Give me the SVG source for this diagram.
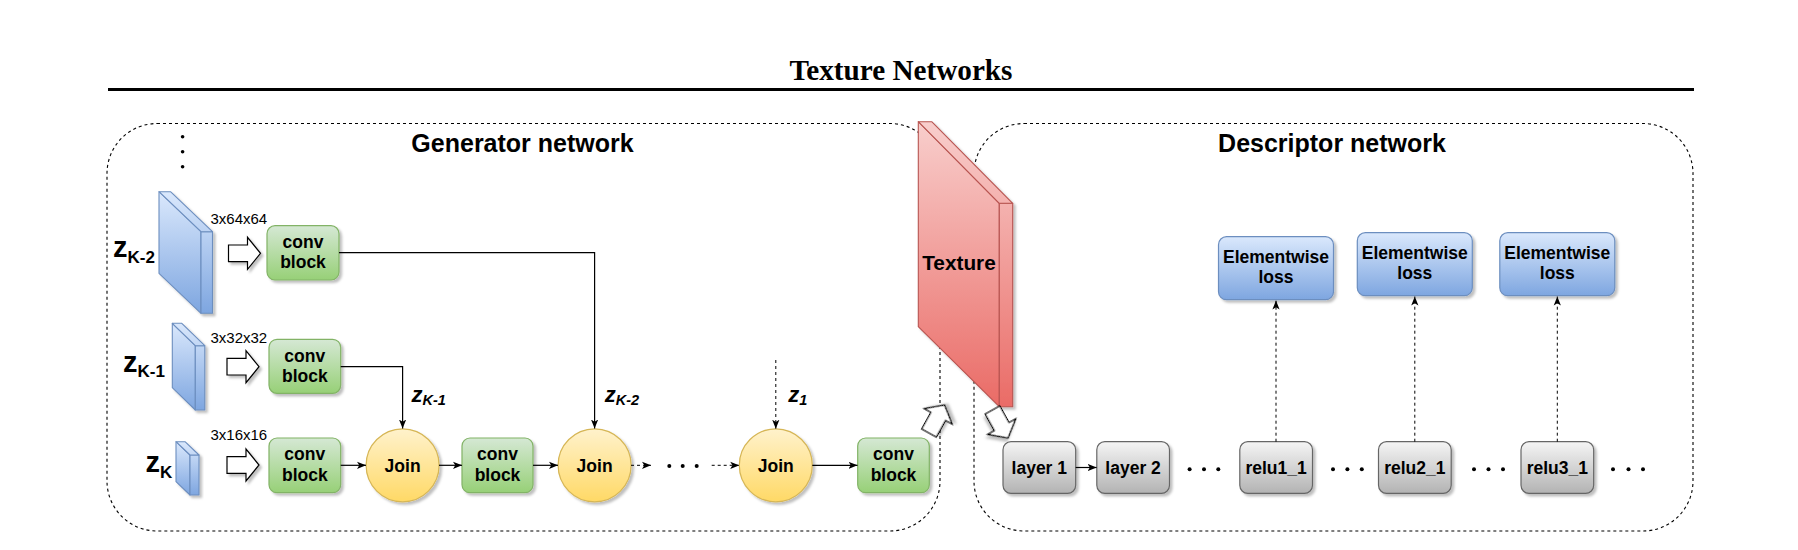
<svg xmlns="http://www.w3.org/2000/svg" width="1798" height="550" viewBox="0 0 1798 550">
<style>
.t{font-family:"Liberation Sans",Arial,Helvetica,sans-serif;font-weight:bold;fill:#000}
.c{text-anchor:middle;font-size:17.5px}
.h{font-size:25px;text-anchor:middle}
.dim{font-family:"Liberation Sans",Arial,Helvetica,sans-serif;font-size:15px;fill:#000}
.zb{font-size:29px}
.zs{font-size:17px}
.zi{font-size:22px;font-style:italic}
.zis{font-size:14.5px}
.ln{fill:none;stroke:#000;stroke-width:1.2}
.dl{fill:none;stroke:#000;stroke-width:1;stroke-dasharray:3 3}
.frame{fill:none;stroke:#000;stroke-width:1.1;stroke-dasharray:3 3}
.green{fill:url(#gG);stroke:#82b366;stroke-width:1.2}
.yel{fill:url(#gY);stroke:#d6b656;stroke-width:1.2}
.blue{fill:url(#gB);stroke:#6c8ebf;stroke-width:1.2}
.gray{fill:url(#gK);stroke:#666;stroke-width:1.2}
.bar{fill:#fff;stroke:#000;stroke-width:1.2}
</style>
<defs>
<linearGradient id="gG" x1="0" y1="0" x2="0" y2="1"><stop offset="0" stop-color="#d5e8d4"/><stop offset="1" stop-color="#97d077"/></linearGradient>
<linearGradient id="gY" x1="0" y1="0" x2="0" y2="1"><stop offset="0" stop-color="#fff2cc"/><stop offset="1" stop-color="#ffd966"/></linearGradient>
<linearGradient id="gB" x1="0" y1="0" x2="0" y2="1"><stop offset="0" stop-color="#dae8fc"/><stop offset="1" stop-color="#7ea6e0"/></linearGradient>
<linearGradient id="gK" x1="0" y1="0" x2="0" y2="1"><stop offset="0" stop-color="#f5f5f5"/><stop offset="1" stop-color="#b3b3b3"/></linearGradient>
<linearGradient id="gR" gradientUnits="userSpaceOnUse" x1="0" y1="122" x2="0" y2="407"><stop offset="0" stop-color="#f8cecc"/><stop offset="1" stop-color="#ea6b66"/></linearGradient>
<linearGradient id="gZ1" gradientUnits="userSpaceOnUse" x1="0" y1="192" x2="0" y2="313"><stop offset="0" stop-color="#dae8fc"/><stop offset="1" stop-color="#7ea6e0"/></linearGradient>
<linearGradient id="gZ2" gradientUnits="userSpaceOnUse" x1="0" y1="323" x2="0" y2="410"><stop offset="0" stop-color="#dae8fc"/><stop offset="1" stop-color="#7ea6e0"/></linearGradient>
<linearGradient id="gZ3" gradientUnits="userSpaceOnUse" x1="0" y1="442" x2="0" y2="495"><stop offset="0" stop-color="#dae8fc"/><stop offset="1" stop-color="#7ea6e0"/></linearGradient>
<filter id="sh" x="-20%" y="-20%" width="140%" height="140%"><feDropShadow dx="2.5" dy="2.5" stdDeviation="1" flood-color="#000" flood-opacity="0.25"/></filter>
<marker id="ah" viewBox="0 0 10 8" refX="10" refY="4" markerWidth="9" markerHeight="8" markerUnits="userSpaceOnUse" orient="auto"><path d="M0,0 L10,4 L0,8 L2.5,4 Z" fill="#000"/></marker>
<path id="barr" d="M0,-8.3 H19 V-16 L32,0 L19,16 V8.3 H0 Z"/>
</defs>

<g id="title">
<text x="901" y="80" style="font-family:'Liberation Serif','Times New Roman',serif;font-weight:bold;font-size:29.2px;text-anchor:middle">Texture Networks</text>
<rect x="108" y="88" width="1586" height="3" fill="#000"/>
</g>

<g id="generator-frame">
<rect class="frame" x="107" y="123.5" width="833" height="407.5" rx="50" ry="50"/>
<text class="t h" x="522.5" y="151.7">Generator network</text>
<circle cx="182.6" cy="136.7" r="1.8"/><circle cx="182.6" cy="151.7" r="1.8"/><circle cx="182.6" cy="166.7" r="1.8"/>
</g>

<g id="descriptor-frame">
<rect class="frame" x="974" y="123.5" width="719" height="407.5" rx="50" ry="50"/>
<text class="t h" x="1332" y="151.7">Descriptor network</text>
</g>

<g id="zK2">
<g filter="url(#sh)" fill="url(#gZ1)" stroke="#6c8ebf" stroke-width="1.1" stroke-linejoin="round">
<path d="M159,191.7 L201,231.7 L201,313.3 L159,273.3 Z"/>
<path d="M201,231.7 L212.5,231.7 L212.5,313.3 L201,313.3 Z"/>
<path d="M159,191.7 L170.5,191.7 L212.5,231.7 L201,231.7 Z"/>
</g>
<text class="t zb" x="113" y="256.7">z<tspan class="zs" dy="6">K-2</tspan></text>
<text class="dim" x="210.5" y="223.5">3x64x64</text>
</g>

<g id="zK1">
<g filter="url(#sh)" fill="url(#gZ2)" stroke="#6c8ebf" stroke-width="1.1" stroke-linejoin="round">
<path d="M172.3,323.3 L195.3,345.7 L195.3,410 L172.3,387.6 Z"/>
<path d="M195.3,345.7 L204.8,345.7 L204.8,410 L195.3,410 Z"/>
<path d="M172.3,323.3 L181.8,323.3 L204.8,345.7 L195.3,345.7 Z"/>
</g>
<text class="t zb" x="123" y="371.7">z<tspan class="zs" dy="5">K-1</tspan></text>
<text class="dim" x="210.5" y="343">3x32x32</text>
</g>

<g id="zK">
<g filter="url(#sh)" fill="url(#gZ3)" stroke="#6c8ebf" stroke-width="1.1" stroke-linejoin="round">
<path d="M176,441.7 L190,455 L190,495 L176,481.7 Z"/>
<path d="M190,455 L199,455 L199,495 L190,495 Z"/>
<path d="M176,441.7 L185,441.7 L199,455 L190,455 Z"/>
</g>
<text class="t zb" x="145.5" y="471.7">z<tspan class="zs" dy="6.5">K</tspan></text>
<text class="dim" x="210.5" y="440">3x16x16</text>
</g>

<g id="conv1"><rect class="green" filter="url(#sh)" x="267" y="225.7" width="72" height="54.3" rx="8"/><text class="t c" x="303" y="248.3">conv</text><text class="t c" x="303" y="267.7">block</text></g>
<g id="conv2"><rect class="green" filter="url(#sh)" x="269" y="339.3" width="71.7" height="54" rx="8"/><text class="t c" x="304.8" y="361.5">conv</text><text class="t c" x="304.8" y="381.5">block</text></g>
<g id="conv3"><rect class="green" filter="url(#sh)" x="269" y="438" width="71.7" height="54.7" rx="8"/><text class="t c" x="304.8" y="460">conv</text><text class="t c" x="304.8" y="480.7">block</text></g>
<g id="join1"><circle class="yel" filter="url(#sh)" cx="402.6" cy="465.3" r="36.5"/><text class="t c" x="402.6" y="471.5">Join</text></g>
<g id="conv4"><rect class="green" filter="url(#sh)" x="462" y="438" width="71" height="54.7" rx="8"/><text class="t c" x="497.5" y="460">conv</text><text class="t c" x="497.5" y="480.7">block</text></g>
<g id="join2"><circle class="yel" filter="url(#sh)" cx="594.6" cy="465.3" r="36.5"/><text class="t c" x="594.6" y="471.5">Join</text></g>
<g id="dots1"><circle cx="669.3" cy="466" r="2"/><circle cx="682.7" cy="466" r="2"/><circle cx="696.7" cy="466" r="2"/></g>
<g id="join3"><circle class="yel" filter="url(#sh)" cx="775.8" cy="465.3" r="36.5"/><text class="t c" x="775.8" y="471.5">Join</text></g>
<g id="conv5"><rect class="green" filter="url(#sh)" x="857.7" y="438" width="71.6" height="54.7" rx="8"/><text class="t c" x="893.5" y="460">conv</text><text class="t c" x="893.5" y="480.7">block</text></g>

<g id="texture">
<g filter="url(#sh)" fill="url(#gR)" stroke="#b85450" stroke-width="1.1" stroke-linejoin="round">
<path d="M918.3,121.7 L999.3,203.3 L999.3,406.7 L918.3,326.7 Z"/>
<path d="M999.3,203.3 L1012.7,203.3 L1012.7,406.7 L999.3,406.7 Z"/>
<path d="M918.3,121.7 L931.7,121.7 L1012.7,203.3 L999.3,203.3 Z"/>
</g>
<text class="t" x="959" y="270" style="font-size:20.8px;text-anchor:middle">Texture</text>
</g>

<g id="layer1"><rect class="gray" filter="url(#sh)" x="1003" y="441.7" width="72.7" height="51.6" rx="8"/><text class="t c" x="1039.3" y="473.5">layer 1</text></g>
<g id="layer2"><rect class="gray" filter="url(#sh)" x="1096.8" y="441.7" width="72.7" height="51.6" rx="8"/><text class="t c" x="1133.1" y="473.5">layer 2</text></g>
<g id="relu1"><rect class="gray" filter="url(#sh)" x="1239.8" y="441.7" width="72.7" height="51.6" rx="8"/><text class="t c" x="1276.1" y="473.5">relu1_1</text></g>
<g id="relu2"><rect class="gray" filter="url(#sh)" x="1378.5" y="441.7" width="72.7" height="51.6" rx="8"/><text class="t c" x="1414.8" y="473.5">relu2_1</text></g>
<g id="relu3"><rect class="gray" filter="url(#sh)" x="1521" y="441.7" width="72.7" height="51.6" rx="8"/><text class="t c" x="1557.3" y="473.5">relu3_1</text></g>
<g id="dots2">
<circle cx="1189.6" cy="469.3" r="2"/><circle cx="1204" cy="469.3" r="2"/><circle cx="1218.3" cy="469.3" r="2"/>
<circle cx="1333" cy="469.3" r="2"/><circle cx="1347.4" cy="469.3" r="2"/><circle cx="1361.8" cy="469.3" r="2"/>
<circle cx="1474" cy="469.3" r="2"/><circle cx="1488.5" cy="469.3" r="2"/><circle cx="1503" cy="469.3" r="2"/>
<circle cx="1613" cy="469.3" r="2"/><circle cx="1628.5" cy="469.3" r="2"/><circle cx="1643" cy="469.3" r="2"/>
</g>
<g id="loss1"><rect class="blue" filter="url(#sh)" x="1218.5" y="236.7" width="115" height="63" rx="8"/><text class="t c" x="1276" y="263">Elementwise</text><text class="t c" x="1276" y="283">loss</text></g>
<g id="loss2"><rect class="blue" filter="url(#sh)" x="1357.3" y="232.7" width="115" height="63" rx="8"/><text class="t c" x="1414.8" y="259">Elementwise</text><text class="t c" x="1414.8" y="279">loss</text></g>
<g id="loss3"><rect class="blue" filter="url(#sh)" x="1499.8" y="232.7" width="115" height="63" rx="8"/><text class="t c" x="1557.3" y="259">Elementwise</text><text class="t c" x="1557.3" y="279">loss</text></g>

<g id="connectors">
<polyline class="ln" points="339,252.7 594.6,252.7 594.6,428.5" marker-end="url(#ah)"/>
<polyline class="ln" points="340.7,366.7 402.6,366.7 402.6,428.5" marker-end="url(#ah)"/>
<line class="ln" x1="340.7" y1="465.3" x2="366" y2="465.3" marker-end="url(#ah)"/>
<line class="ln" x1="439" y1="465.3" x2="462" y2="465.3" marker-end="url(#ah)"/>
<line class="ln" x1="533" y1="465.3" x2="558" y2="465.3" marker-end="url(#ah)"/>
<line class="dl" x1="631" y1="465.3" x2="651" y2="465.3" marker-end="url(#ah)"/>
<line class="dl" x1="711.7" y1="465.3" x2="739.2" y2="465.3" marker-end="url(#ah)"/>
<line class="dl" x1="775.8" y1="360" x2="775.8" y2="428.7" marker-end="url(#ah)"/>
<line class="ln" x1="812.3" y1="465.3" x2="857.5" y2="465.3" marker-end="url(#ah)"/>
<line class="ln" x1="1075.7" y1="467.5" x2="1096.6" y2="467.5" marker-end="url(#ah)"/>
<line class="dl" x1="1276" y1="441.7" x2="1276" y2="300.5" marker-end="url(#ah)"/>
<line class="dl" x1="1414.8" y1="441.7" x2="1414.8" y2="296.5" marker-end="url(#ah)"/>
<line class="dl" x1="1557.3" y1="441.7" x2="1557.3" y2="296.5" marker-end="url(#ah)"/>
<use href="#barr" class="bar" filter="url(#sh)" transform="translate(228.5,253.3)"/>
<use href="#barr" class="bar" filter="url(#sh)" transform="translate(227,366.7)"/>
<use href="#barr" class="bar" filter="url(#sh)" transform="translate(227,465)"/>
<use href="#barr" class="bar" filter="url(#sh)" transform="translate(929,433) rotate(-61)"/>
<use href="#barr" class="bar" filter="url(#sh)" transform="translate(992.5,410) rotate(61)"/>
<text class="t zi" x="411.5" y="401.7">z<tspan class="zis" dy="3.5">K-1</tspan></text>
<text class="t zi" x="604.7" y="401.7">z<tspan class="zis" dy="3.5">K-2</tspan></text>
<text class="t zi" x="788.3" y="401.7">z<tspan class="zis" dy="3.5">1</tspan></text>
</g>
</svg>
